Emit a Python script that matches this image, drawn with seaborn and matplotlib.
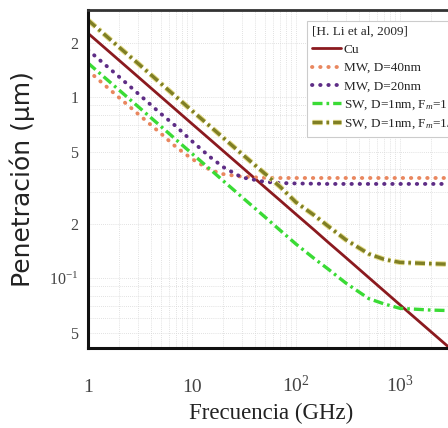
import matplotlib
matplotlib.use("Agg")
import matplotlib.pyplot as plt
import matplotlib.patheffects as pe
from matplotlib.ticker import FixedLocator, NullFormatter, LogLocator
import seaborn as sns
import pandas as pd

# ---- data ----
freq = [1, 2, 3, 5, 7, 10, 15, 20, 30, 50, 70, 100, 150, 200, 300, 500, 700, 1000, 2000, 3300]
cu = [2.25, 1.591, 1.299, 1.006, 0.850, 0.711, 0.581, 0.503, 0.411, 0.318, 0.269, 0.225, 0.184,
      0.159, 0.130, 0.1006, 0.0850, 0.0711, 0.0503, 0.0392]
mw40 = [1.40, 0.99, 0.81, 0.63, 0.53, 0.455, 0.395, 0.375, 0.363, 0.358, 0.357, 0.357, 0.357,
        0.357, 0.357, 0.357, 0.357, 0.357, 0.357, 0.357]
mw20 = [1.82, 1.29, 1.05, 0.81, 0.69, 0.57, 0.465, 0.41, 0.36, 0.340, 0.335, 0.333, 0.332,
        0.331, 0.331, 0.331, 0.331, 0.331, 0.331, 0.331]
sw1 = [1.54, 1.09, 0.89, 0.69, 0.582, 0.487, 0.398, 0.344, 0.281, 0.218, 0.184, 0.154, 0.128,
       0.113, 0.094, 0.077, 0.072, 0.068, 0.0665, 0.066]
sw13 = [2.66, 1.88, 1.54, 1.19, 1.005, 0.84, 0.687, 0.595, 0.486, 0.378, 0.32, 0.262, 0.222,
        0.195, 0.163, 0.136, 0.127, 0.122, 0.120, 0.119]

labels = ["Cu", "MW, D=40nm", "MW, D=20nm", "SW, D=1nm, F$_{m}$=1", "SW, D=1nm, F$_{m}$=1/3"]
legend_title = "[H. Li et al, 2009]"
xticks = [1, 10, 100, 1000]
xticklabels = ["1", "10", "10$^{2}$", "10$^{3}$"]
yticks = [0.05, 0.1, 0.2, 0.5, 1, 2]
yticklabels = ["5", "10$^{-1}$", "2", "5", "1", "2"]

sns.set_theme(style="white")
plt.rcParams["mathtext.fontset"] = "custom"
plt.rcParams["mathtext.rm"] = "Liberation Serif"
plt.rcParams["mathtext.it"] = "Liberation Serif:italic"

fig = plt.figure(figsize=(4.48, 4.28), dpi=100)
ax = fig.add_axes([88 / 448, 80 / 428, 366 / 448, 338 / 428])
ax.set_xscale("log")
ax.set_yscale("log")

series = [cu, mw40, mw20, sw1, sw13]
styles = [
    dict(color="#8B1A1F", lw=2.0, linestyle="-"),
    dict(color="#E9875F", lw=2.8, linestyle=(0, (0.1, 2.0)), solid_capstyle="round", dash_capstyle="round"),
    dict(color="#5E2D86", lw=2.8, linestyle=(0, (0.1, 2.0)), solid_capstyle="round", dash_capstyle="round"),
    dict(color="#3ADB35", lw=2.4, linestyle=(0, (3, 1.2, 0.8, 1.2))),
    dict(color="#7F7F25", lw=2.4, linestyle=(0, (3, 1.2, 0.8, 1.2)),
         path_effects=[pe.Stroke(linewidth=3.8, foreground="#E3DA86"), pe.Normal()]),
]
for vals, lab, st in zip(series, labels, styles):
    df = pd.DataFrame({"f": freq, "d": vals})
    sns.lineplot(data=df, x="f", y="d", ax=ax, label=lab, errorbar=None, **st)

ax.set_xlim(1, 3305)
ax.set_ylim(0.04106, 3.025)

ax.xaxis.set_major_locator(FixedLocator(xticks))
ax.set_xticklabels(xticklabels)
ax.xaxis.set_minor_locator(LogLocator(base=10, subs=range(2, 10)))
ax.xaxis.set_minor_formatter(NullFormatter())
ax.yaxis.set_major_locator(FixedLocator(yticks))
ax.set_yticklabels(yticklabels)
ax.yaxis.set_minor_locator(LogLocator(base=10, subs=range(2, 10)))
ax.yaxis.set_minor_formatter(NullFormatter())

ax.grid(True, which="both", color="#d8d8d8", lw=0.6, linestyle=(0, (1, 1.5)))
ax.tick_params(axis="both", which="both", length=0)
ax.tick_params(axis="x", pad=31.5, labelsize=14, labelcolor="#444444")
ax.tick_params(axis="y", pad=7, labelsize=11.5, labelcolor="#444444")
for t in ax.get_xticklabels():
    t.set_fontfamily("Liberation Serif")
    t.set_verticalalignment("baseline")
for t in ax.get_yticklabels():
    t.set_fontfamily("Liberation Serif")

for s in ["left", "bottom"]:
    ax.spines[s].set_color("#111111")
    ax.spines[s].set_linewidth(2.2)
ax.spines["top"].set_color("#333333")
ax.spines["top"].set_linewidth(2.0)
ax.spines["right"].set_visible(False)

ax.set_xlabel("Frecuencia (GHz)", fontsize=16.5, family="Liberation Serif", color="#222222")
ax.xaxis.set_label_coords(0.5, -0.163)
ax.set_ylabel("Penetración (μm)", fontsize=18, family="DejaVu Sans", color="#222222")
ax.yaxis.set_label_coords(-0.145, 0.5)

leg = ax.legend(loc="upper left", bbox_to_anchor=(300 / 448, 1 - 14 / 428),
                bbox_transform=fig.transFigure, title=legend_title,
                prop={"family": "Liberation Serif", "size": 9.5},
                title_fontproperties={"family": "Liberation Serif", "size": 9.5},
                frameon=True, fancybox=False, edgecolor="#cccccc", framealpha=1,
                handlelength=2.2, handletextpad=0.2, labelspacing=0.45, borderpad=0.4,
                alignment="left")
leg.get_frame().set_linewidth(0.8)

fig.savefig("out.png", dpi=100)
